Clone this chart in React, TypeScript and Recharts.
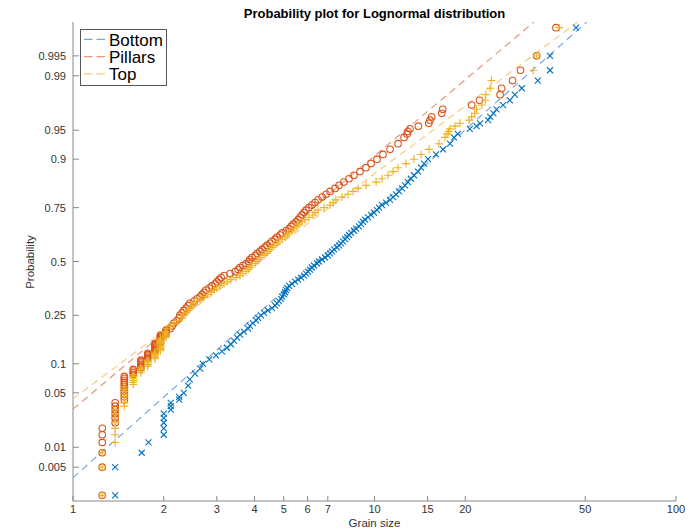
import React from 'react'
import { ScatterChart, Scatter, XAxis, YAxis } from 'recharts'

const BLUE = '#0072BD'
const RED = '#D95319'
const YELLOW = '#EDB120'
const BLUE_FIT = '#78a9dc'
const RED_FIT = '#e8957a'
const YELLOW_FIT = '#f4cd84'
const AXIS = '#888888'
const TEXT = '#333333'
const FONT = '"Liberation Sans", Arial, Helvetica, sans-serif'

const X_TICKS = [1, 2, 3, 4, 5, 6, 7, 10, 15, 20, 50, 100]
const Y_TICKS = [0.005, 0.01, 0.05, 0.1, 0.25, 0.5, 0.75, 0.9, 0.95, 0.99, 0.995]

// [grain size, probability]
const BOTTOM: [number, number][] = [
  [1.38, 0.0017], [1.38, 0.005], [1.69, 0.0083], [1.78, 0.0117],
  [2.0, 0.015], [2.0, 0.0183], [2.0, 0.0217], [2.0, 0.025], [2.0, 0.0283],
  [2.11, 0.0317], [2.11, 0.035], [2.11, 0.0383], [2.25, 0.0417], [2.25, 0.045],
  [2.33, 0.05], [2.41, 0.06], [2.44, 0.07], [2.54, 0.08], [2.64, 0.09], [2.70, 0.10],
  [2.83, 0.11], [2.98, 0.12], [3.12, 0.13], [3.24, 0.14], [3.34, 0.15], [3.42, 0.16],
  [3.50, 0.17], [3.58, 0.18], [3.69, 0.19], [3.81, 0.20], [3.86, 0.21], [3.95, 0.22],
  [4.05, 0.23], [4.11, 0.24], [4.20, 0.25], [4.30, 0.26], [4.43, 0.27], [4.57, 0.28],
  [4.68, 0.29], [4.75, 0.30], [4.82, 0.31], [4.90, 0.32], [4.94, 0.33], [5.01, 0.34],
  [5.05, 0.35], [5.09, 0.36], [5.13, 0.37], [5.21, 0.38], [5.33, 0.39], [5.45, 0.40],
  [5.58, 0.41], [5.71, 0.42], [5.84, 0.43], [5.93, 0.44], [6.02, 0.45], [6.11, 0.46],
  [6.20, 0.47], [6.30, 0.48], [6.45, 0.49], [6.54, 0.50], [6.70, 0.51], [6.85, 0.52],
  [7.01, 0.53], [7.12, 0.54], [7.23, 0.55], [7.34, 0.56], [7.51, 0.57], [7.63, 0.58],
  [7.74, 0.59], [7.86, 0.60], [7.99, 0.61], [8.11, 0.62], [8.23, 0.63], [8.36, 0.64],
  [8.55, 0.65], [8.69, 0.66], [8.88, 0.67], [9.02, 0.68], [9.16, 0.69], [9.30, 0.70],
  [9.52, 0.71], [9.74, 0.72], [9.96, 0.73], [10.19, 0.74], [10.35, 0.75], [10.59, 0.76],
  [10.92, 0.77], [11.26, 0.78], [11.52, 0.79], [11.79, 0.80], [12.06, 0.81], [12.34, 0.82],
  [12.62, 0.83], [12.92, 0.84], [13.21, 0.85], [13.52, 0.86], [13.94, 0.87], [14.27, 0.88],
  [14.60, 0.89], [15.05, 0.90], [16.0, 0.91], [16.87, 0.92], [17.8, 0.93], [18.35, 0.94],
  [18.9, 0.945], [20.7, 0.9517], [21.8, 0.955], [22.4, 0.9583], [23.8, 0.9617], [24.2, 0.965],
  [24.8, 0.9683], [25.4, 0.9717], [26.7, 0.975], [28.1, 0.9783], [29.2, 0.9817], [30.8, 0.985],
  [34.8, 0.9883], [38.2, 0.9917], [38.2, 0.995], [46.6, 0.9983],
]

const PILLARS: [number, number][] = [
  [1.25, 0.0017], [1.25, 0.005], [1.25, 0.0083], [1.25, 0.0117], [1.25, 0.015], [1.25, 0.0183],
  [1.38, 0.0217], [1.38, 0.025], [1.38, 0.0283], [1.38, 0.0317], [1.38, 0.035], [1.38, 0.0383],
  [1.48, 0.0417], [1.48, 0.045], [1.48, 0.0483], [1.48, 0.0517], [1.48, 0.055], [1.48, 0.0583],
  [1.48, 0.0617], [1.48, 0.065], [1.48, 0.0683], [1.48, 0.0717], [1.48, 0.075],
  [1.585, 0.0783], [1.585, 0.0817], [1.585, 0.085], [1.585, 0.0883],
  [1.68, 0.0917], [1.68, 0.095], [1.68, 0.0983], [1.68, 0.1017], [1.68, 0.105], [1.68, 0.1083],
  [1.77, 0.1117], [1.77, 0.115], [1.77, 0.1183], [1.77, 0.1217], [1.77, 0.125],
  [1.87, 0.1283], [1.87, 0.1317], [1.87, 0.135], [1.87, 0.1383], [1.87, 0.1417], [1.87, 0.145],
  [1.87, 0.1483], [1.87, 0.1517],
  [1.95, 0.155], [1.95, 0.1583], [1.95, 0.1617], [1.95, 0.165], [1.95, 0.1683], [1.95, 0.1717],
  [1.95, 0.175], [1.95, 0.1783],
  [2.035, 0.1817], [2.035, 0.185], [2.035, 0.1883], [2.035, 0.1917], [2.035, 0.195],
  [2.10, 0.20], [2.13, 0.21], [2.16, 0.22], [2.21, 0.23], [2.25, 0.24], [2.26, 0.25],
  [2.30, 0.26], [2.33, 0.27], [2.37, 0.28], [2.41, 0.29], [2.44, 0.30], [2.52, 0.31],
  [2.58, 0.32], [2.64, 0.33], [2.68, 0.34], [2.72, 0.35], [2.76, 0.36], [2.83, 0.37],
  [2.89, 0.38], [2.96, 0.39], [3.00, 0.40], [3.05, 0.41], [3.10, 0.42], [3.17, 0.43],
  [3.32, 0.44], [3.45, 0.45], [3.53, 0.46], [3.58, 0.47], [3.66, 0.48], [3.75, 0.49],
  [3.83, 0.50], [3.86, 0.51], [3.92, 0.52], [4.02, 0.53], [4.08, 0.54], [4.17, 0.55],
  [4.24, 0.56], [4.33, 0.57], [4.40, 0.58], [4.50, 0.59], [4.57, 0.60], [4.68, 0.61],
  [4.75, 0.62], [4.86, 0.63], [4.94, 0.64], [5.09, 0.65], [5.21, 0.66], [5.29, 0.67],
  [5.37, 0.68], [5.49, 0.69], [5.58, 0.70], [5.66, 0.71], [5.75, 0.72], [5.84, 0.73],
  [5.93, 0.74], [6.06, 0.75], [6.20, 0.76], [6.35, 0.77], [6.50, 0.78], [6.70, 0.79],
  [6.91, 0.80], [7.12, 0.81], [7.40, 0.82], [7.63, 0.83], [7.92, 0.84], [8.23, 0.85],
  [8.55, 0.86], [8.95, 0.87], [9.37, 0.88], [9.74, 0.89], [10.19, 0.90], [10.67, 0.91],
  [11.26, 0.92], [11.97, 0.93], [12.53, 0.94], [12.82, 0.945], [12.91, 0.9483],
  [13.11, 0.9517], [13.98, 0.955], [15.14, 0.9583], [15.28, 0.9617], [15.48, 0.965],
  [16.71, 0.9683], [16.84, 0.9717], [21.0, 0.975], [22.3, 0.9783], [26.1, 0.9817],
  [26.4, 0.985], [28.7, 0.9883], [30.5, 0.9917], [34.5, 0.995], [40.0, 0.9983],
]

const TOP: [number, number][] = [
  [1.25, 0.0017], [1.25, 0.005], [1.25, 0.0083],
  [1.38, 0.0117], [1.38, 0.015], [1.38, 0.0183], [1.38, 0.0217], [1.38, 0.025], [1.38, 0.0283],
  [1.38, 0.0317],
  [1.48, 0.035], [1.48, 0.0383], [1.48, 0.0417], [1.48, 0.045], [1.48, 0.0483], [1.48, 0.0517],
  [1.48, 0.055], [1.48, 0.0583],
  [1.585, 0.0617], [1.585, 0.065], [1.585, 0.0683], [1.585, 0.0717], [1.585, 0.075], [1.585, 0.0783],
  [1.68, 0.0817], [1.68, 0.085], [1.68, 0.0883], [1.68, 0.0917],
  [1.77, 0.095], [1.77, 0.0983], [1.77, 0.1017], [1.77, 0.105], [1.77, 0.1083],
  [1.87, 0.1117], [1.87, 0.115], [1.87, 0.1183], [1.87, 0.1217], [1.87, 0.125], [1.87, 0.1283],
  [1.95, 0.1317], [1.95, 0.135], [1.95, 0.1383], [1.95, 0.1417], [1.95, 0.145], [1.95, 0.1483],
  [1.95, 0.1517], [1.95, 0.155], [1.95, 0.1583], [1.95, 0.1617], [1.95, 0.165], [1.95, 0.1683],
  [2.035, 0.1717], [2.035, 0.175], [2.035, 0.1783], [2.035, 0.1817], [2.035, 0.185],
  [2.02, 0.19], [2.05, 0.20], [2.10, 0.21], [2.16, 0.22], [2.23, 0.23], [2.30, 0.24],
  [2.33, 0.25], [2.37, 0.26], [2.41, 0.27], [2.44, 0.28], [2.48, 0.29], [2.52, 0.30],
  [2.58, 0.31], [2.64, 0.32], [2.72, 0.33], [2.80, 0.34], [2.87, 0.35], [2.94, 0.36],
  [3.00, 0.37], [3.07, 0.38], [3.17, 0.39], [3.24, 0.40], [3.34, 0.41], [3.47, 0.42],
  [3.58, 0.43], [3.66, 0.44], [3.75, 0.45], [3.81, 0.46], [3.86, 0.47], [3.92, 0.48],
  [4.02, 0.49], [4.08, 0.50], [4.14, 0.51], [4.20, 0.52], [4.30, 0.53], [4.37, 0.54],
  [4.43, 0.55], [4.50, 0.56], [4.57, 0.57], [4.64, 0.58], [4.75, 0.59], [4.82, 0.60],
  [4.94, 0.61], [5.05, 0.62], [5.13, 0.63], [5.21, 0.64], [5.33, 0.65], [5.41, 0.66],
  [5.53, 0.67], [5.62, 0.68], [5.75, 0.69], [5.88, 0.70], [6.06, 0.71], [6.25, 0.72],
  [6.35, 0.73], [6.50, 0.74], [6.80, 0.75], [7.12, 0.76], [7.29, 0.77], [7.45, 0.78],
  [7.80, 0.79], [8.17, 0.80], [8.49, 0.81], [8.82, 0.82], [9.37, 0.83], [10.12, 0.84],
  [10.59, 0.85], [11.09, 0.86], [11.52, 0.87], [11.97, 0.88], [12.72, 0.89], [13.52, 0.90],
  [14.27, 0.91], [15.17, 0.92], [16.36, 0.93], [17.13, 0.94], [17.40, 0.945], [17.6, 0.9483],
  [17.8, 0.9517], [18.5, 0.955], [19.2, 0.9583], [20.6, 0.9617], [21.0, 0.965], [21.5, 0.9683],
  [21.8, 0.9717], [22.7, 0.975], [23.3, 0.9783], [23.4, 0.9817], [24.2, 0.985], [24.4, 0.9883],
  [33.6, 0.9917], [34.5, 0.995], [41.0, 0.9983],
]

// fitted lognormal reference lines: end points
const FIT_BOTTOM: [number, number][] = [[1, 0.0034], [50.6, 0.99865]]
const FIT_PILLARS: [number, number][] = [[1, 0.0322], [33.8, 0.99865]]
const FIT_TOP: [number, number][] = [[1, 0.0427], [47.2, 0.99865]]

// inverse normal cdf (Acklam) -> probability axis is linear in z
function probit(p: number) {
  const a = [-39.69683028665376, 220.9460984245205, -275.9285104469687, 138.357751867269, -30.66479806614716, 2.506628277459239]
  const b = [-54.47609879822406, 161.5858368580409, -155.6989798598866, 66.80131188771972, -13.28068155288572]
  const c = [-0.007784894002430293, -0.3223964580411365, -2.400758277161838, -2.549732539343734, 4.374664141464968, 2.938163982698783]
  const d = [0.007784695709041462, 0.3224671290700398, 2.445134137142996, 3.754408661907416]
  const lo = 0.02425
  if (p < lo) {
    const q = Math.sqrt(-2 * Math.log(p))
    return (((((c[0] * q + c[1]) * q + c[2]) * q + c[3]) * q + c[4]) * q + c[5]) / ((((d[0] * q + d[1]) * q + d[2]) * q + d[3]) * q + 1)
  }
  if (p > 1 - lo) {
    const q = Math.sqrt(-2 * Math.log(1 - p))
    return -(((((c[0] * q + c[1]) * q + c[2]) * q + c[3]) * q + c[4]) * q + c[5]) / ((((d[0] * q + d[1]) * q + d[2]) * q + d[3]) * q + 1)
  }
  const q = p - 0.5
  const r = q * q
  return (((((a[0] * r + a[1]) * r + a[2]) * r + a[3]) * r + a[4]) * r + a[5]) * q / (((((b[0] * r + b[1]) * r + b[2]) * r + b[3]) * r + b[4]) * r + 1)
}

const toPoints = (rows: [number, number][]) => rows.map(([x, p]) => ({ x, y: probit(p) }))

const Y_TICK_Z = Y_TICKS.map(probit)
const yLabel = (z: number) => {
  const i = Y_TICK_Z.findIndex(t => Math.abs(t - z) < 1e-6)
  return i >= 0 ? String(Y_TICKS[i]) : ''
}

const YTick = (props: any) => {
  const { x, y, payload } = props
  return (
    <g>
      <line x1={x} y1={y} x2={x + 6} y2={y} stroke={AXIS} />
      <text x={x - 7} y={y + 4} textAnchor="end" fontSize={11} fill={TEXT} fontFamily={FONT}>
        {yLabel(payload.value)}
      </text>
    </g>
  )
}

const XTick = (props: any) => {
  const { x, y, payload } = props
  return (
    <g>
      <line x1={x} y1={y} x2={x} y2={y - 5} stroke={AXIS} />
      <text x={x} y={y + 12} textAnchor="middle" fontSize={11} fill={TEXT} fontFamily={FONT}>
        {payload.value}
      </text>
    </g>
  )
}

const Ring = (props: any) => (
  <circle cx={props.cx} cy={props.cy} r={3.3} fill="none" stroke={RED} strokeWidth={1.1} />
)
const Plus = (props: any) => (
  <path d={`M${props.cx - 4},${props.cy}h8M${props.cx},${props.cy - 4}v8`} stroke={YELLOW} strokeWidth={1.1} />
)
const Ex = (props: any) => (
  <path d={`M${props.cx - 3},${props.cy - 3}l6,6M${props.cx - 3},${props.cy + 3}l6,-6`} stroke={BLUE} strokeWidth={1.1} />
)
const NoMark = () => <g />

const LEGEND = [
  { name: 'Bottom', color: BLUE_FIT },
  { name: 'Pillars', color: RED_FIT },
  { name: 'Top', color: YELLOW_FIT },
]

export default function App() {
  return (
    <div style={{ position: 'absolute', left: 0, top: 0, width: 698, height: 530, background: '#fff' }}>
      <ScatterChart width={698} height={530} margin={{ top: 22, right: 22, bottom: 0, left: 13 }}>
        <XAxis
          type="number" dataKey="x" scale="log" domain={[1, 100]} ticks={X_TICKS} interval={0}
          height={29} tickSize={0} tickMargin={0} tickLine={false}
          axisLine={{ stroke: AXIS }} tick={XTick} allowDataOverflow
        />
        <YAxis
          type="number" dataKey="y" domain={[-3, 3]} ticks={Y_TICK_Z} interval={0}
          width={60} tickSize={0} tickMargin={0} tickLine={false}
          axisLine={{ stroke: AXIS }} tick={YTick} allowDataOverflow
        />
        <Scatter data={toPoints(FIT_BOTTOM)} shape={NoMark} line={{ stroke: BLUE_FIT, strokeWidth: 1.2, strokeDasharray: '7 5' }} isAnimationActive={false} />
        <Scatter data={toPoints(FIT_PILLARS)} shape={NoMark} line={{ stroke: RED_FIT, strokeWidth: 1.2, strokeDasharray: '7 5' }} isAnimationActive={false} />
        <Scatter data={toPoints(FIT_TOP)} shape={NoMark} line={{ stroke: YELLOW_FIT, strokeWidth: 1.2, strokeDasharray: '7 5' }} isAnimationActive={false} />
        <Scatter name="Bottom" data={toPoints(BOTTOM)} shape={Ex} isAnimationActive={false} />
        <Scatter name="Pillars" data={toPoints(PILLARS)} shape={Ring} isAnimationActive={false} />
        <Scatter name="Top" data={toPoints(TOP)} shape={Plus} isAnimationActive={false} />
      </ScatterChart>

      <svg width={698} height={530} style={{ position: 'absolute', left: 0, top: 0, pointerEvents: 'none' }}>
        <text x={374.5} y={17.5} textAnchor="middle" fontSize={13} fontWeight="bold" fill="#000" fontFamily={FONT}>
          Probability plot for Lognormal distribution
        </text>
        <text x={374.5} y={526.5} textAnchor="middle" fontSize={11.5} fill={TEXT} fontFamily={FONT}>
          Grain size
        </text>
        <text x={34} y={262} textAnchor="middle" fontSize={11.5} fill={TEXT} fontFamily={FONT} transform="rotate(-90 34 262)">
          Probability
        </text>
        <rect x={80.5} y={29.5} width={86} height={56} fill="#fff" stroke="#555" />
        {LEGEND.map((item, i) => (
          <g key={item.name}>
            <line x1={84} x2={105} y1={39.3 + i * 17.3} y2={39.3 + i * 17.3} stroke={item.color} strokeWidth={1.2} strokeDasharray="8.5 4" />
            <text x={109} y={45.5 + i * 17.3} fontSize={17} fill="#000" fontFamily={FONT}>{item.name}</text>
          </g>
        ))}
      </svg>
    </div>
  )
}
